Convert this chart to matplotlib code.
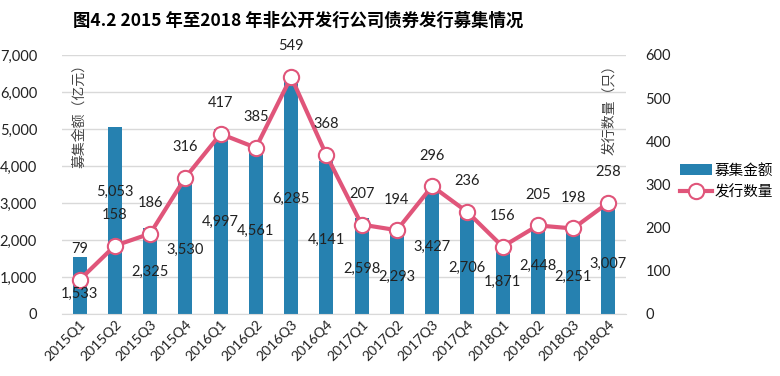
import matplotlib.pyplot as plt
import numpy as np

plt.rcParams['font.family'] = ['Lato', 'Noto Sans CJK SC', 'DejaVu Sans']

# 数据
quarters = ['2015Q1', '2015Q2', '2015Q3', '2015Q4', '2016Q1', '2016Q2', '2016Q3', '2016Q4',
            '2017Q1', '2017Q2', '2017Q3', '2017Q4', '2018Q1', '2018Q2', '2018Q3', '2018Q4']
amounts = [1533, 5053, 2325, 3530, 4997, 4561, 6285, 4141,
           2598, 2293, 3427, 2706, 1871, 2448, 2251, 3007]
counts = [79, 158, 186, 316, 417, 385, 549, 368,
          207, 194, 296, 236, 156, 205, 198, 258]
# 金额标签的纵向位置（数据坐标，手动避让）
amount_label_y = [540, 3300, 1135, 1730, 2490, 2245, 3110, 2000,
                  1216, 1000, 1810, 1243, 865, 1297, 1000, 1351]

bar_color = '#2681B0'
line_color = '#E0557A'

fig = plt.figure(figsize=(7.8, 3.76), dpi=100)
ax1 = fig.add_axes([0.0795, 0.165, 0.7231, 0.689])
ax2 = ax1.twinx()

x = np.arange(len(quarters))
bars = ax1.bar(x, amounts, width=0.4, color=bar_color, zorder=2, label='募集金额')
ax1.set_ylim(0, 7000)
ax1.set_yticks(np.arange(0, 7001, 1000))
ax1.set_yticklabels([f'{v:,}' for v in range(0, 7001, 1000)])
ax1.set_xlim(-0.5, len(quarters) - 0.5)
ax1.set_xticks(x)
ax1.set_xticklabels(quarters, rotation=45, ha='right', rotation_mode='anchor')
ax1.grid(axis='y', color='#d9d9d9', linewidth=1, zorder=0)
ax1.set_axisbelow(True)

line, = ax2.plot(x, counts, color=line_color, linewidth=3, marker='o', markersize=11,
                 markerfacecolor='white', markeredgecolor=line_color, markeredgewidth=1.5,
                 label='发行数量', zorder=3)
ax2.set_ylim(0, 600)
ax2.set_yticks(np.arange(0, 601, 100))

# 金额标签画在折线之上
for i, v in enumerate(amounts):
    ax2.text(i, amount_label_y[i], f'{v:,}', transform=ax1.transData, ha='center', va='center',
             fontsize=10.5, color='#222222', zorder=5)

for i, v in enumerate(counts):
    ax2.annotate(str(v), (i, v), xytext=(0, 17), textcoords='offset points',
                 ha='center', va='bottom', fontsize=10.5, color='#222222')

for ax in (ax1, ax2):
    for s in ax.spines.values():
        s.set_visible(False)
    ax.tick_params(length=0, labelsize=10.5, colors='#222222')
ax1.spines['bottom'].set_visible(True)
ax1.spines['bottom'].set_color('#d9d9d9')
ax1.tick_params(axis='y', pad=18)
ax2.tick_params(axis='y', pad=14)
ax1.tick_params(axis='x', pad=3, labelsize=10)

ax1.text(0.018, 0.99, '募集金额（亿元）', transform=ax1.transAxes, rotation=90,
         ha='left', va='top', fontsize=10, color='#444444', family=['Noto Sans CJK SC'])
ax2.text(0.982, 0.99, '发行数量（只）', transform=ax2.transAxes, rotation=90,
         ha='right', va='top', fontsize=10, color='#444444', family=['Noto Sans CJK SC'])

leg = fig.legend(handles=[bars, line], loc='upper left', bbox_to_anchor=(0.855, 0.6),
                 frameon=False, prop={'family': 'Noto Sans CJK SC', 'size': 10.5},
                 handlelength=2.2, handletextpad=0.2, labelspacing=0.5)

fig.text(0.094, 0.945, '图4.2 2015 年至2018 年非公开发行公司债券发行募集情况',
         fontsize=12.5, fontweight='bold', family=['Noto Sans CJK SC'], va='center', ha='left')

fig.savefig('out.png', dpi=100)
